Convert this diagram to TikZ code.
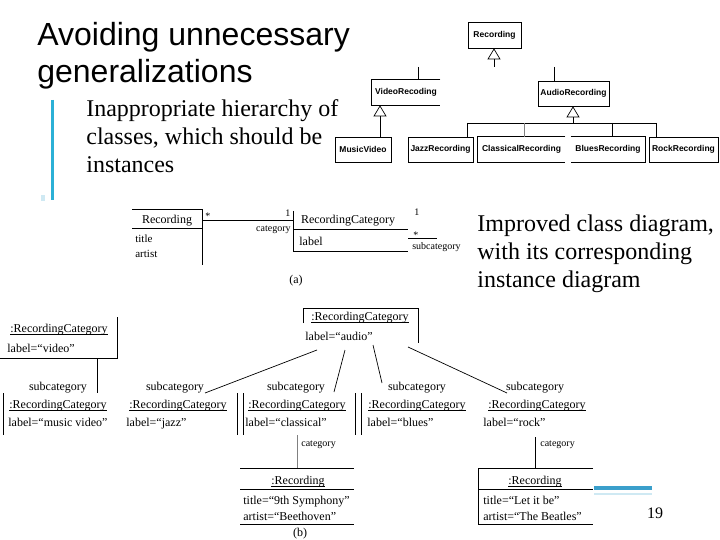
\documentclass[tikz,border=0pt]{standalone}
\usepackage{fontspec}
\setmainfont{Liberation Serif}
\newfontfamily\sansfam{Liberation Sans}
\usetikzlibrary{arrows.meta}
\definecolor{barblue}{HTML}{2BB0D6}
\definecolor{lightblue}{HTML}{CFE9F3}
\definecolor{lineblue}{HTML}{3A9FCB}
\newcommand\titlefnt{\sansfam\fontsize{32}{37}\selectfont}
\newcommand\bodyfnt{\fontsize{24}{28}\selectfont}
\newcommand\hierfnt{\sansfam\bfseries\fontsize{8.5}{10}\selectfont}
\newcommand\umlfnt{\fontsize{12}{14}\selectfont}
\newcommand\attrfnt{\fontsize{11}{13}\selectfont}
\newcommand\smallfnt{\fontsize{10}{12}\selectfont}
\newcommand\tul[1]{\leavevmode\setbox0=\hbox{#1}\rlap{\rule[-2.6pt]{\wd0}{1.1pt}}\box0}
\begin{document}
\begin{tikzpicture}[x=1pt,y=-1pt,line width=0.7pt,
  hbox/.style={font=\hierfnt, inner sep=0pt, minimum height=25pt},
  hdraw/.style={hbox, draw},
  gen/.style={-{Triangle[open,length=11pt,width=13pt]}},
  txt/.style={inner sep=0pt, font=\umlfnt},
  sml/.style={inner sep=0pt, font=\smallfnt},
  bw/.style={anchor=base west},
  bc/.style={anchor=base},
  be/.style={anchor=base east}]
\clip (0,0) rectangle (720,540);
\fill[white] (0,0) rectangle (720,540);

% ---- title and texts
\node[bw, inner sep=0pt, font=\titlefnt] (t1) at (37,46) {Avoiding unnecessary};
\node[bw, inner sep=0pt, font=\titlefnt] (t2) at (37,83) {generalizations};
\draw[barblue, line width=3pt] (52,100) -- (52,200);
\fill[lightblue] (41,195) rectangle (45,201);
\node[bw, inner sep=0pt, font=\bodyfnt] (b1) at (86,117) {Inappropriate hierarchy of};
\node[bw, inner sep=0pt, font=\bodyfnt] (b2) at (86,145) {classes, which should be};
\node[bw, inner sep=0pt, font=\bodyfnt] (b3) at (86,173) {instances};
\node[bw, inner sep=0pt, font=\bodyfnt] (r1) at (477,231) {Improved class diagram,};
\node[bw, inner sep=0pt, font=\bodyfnt] (r2) at (477,259) {with its corresponding};
\node[bw, inner sep=0pt, font=\bodyfnt] (r3) at (477,287) {instance diagram};

% ---- inappropriate hierarchy
\node[hdraw, minimum width=53pt, minimum height=26pt] (rec) at (494.5,35) {Recording};
\node[hbox, minimum width=68pt] (video) at (406,92.5) {VideoRecoding};
\draw (video.north east) -- (video.north west) -- (video.south west) -- (video.south east);
\node[hdraw, minimum width=71pt] (audio) at (573.5,93.5) {AudioRecording};
\node[hdraw, minimum width=56pt] (mv) at (363,149.5) {MusicVideo};
\node[hdraw, minimum width=65pt] (jazz) at (440.5,149.5) {JazzRecording};
\node[hbox, minimum width=87pt] (classical) at (521.5,149.5) {ClassicalRecording};
\draw (classical.north east) -- (classical.north west) -- (classical.south west) -- (classical.south east);
\node[hbox, minimum width=74pt] (blues) at (608,149.5) {BluesRecording};
\draw (blues.north west) -- (blues.north east) -- (blues.south east) -- (blues.south west);
\node[hdraw, minimum width=69pt] (rock) at (683.5,149.5) {RockRecording};

\coordinate (recstub) at (494,67);
\draw[gen] (recstub) -- (recstub |- rec.south);
\coordinate (vstub) at (418,67);
\draw (vstub) -- (vstub |- video.north);
\coordinate (astub) at (554,67);
\draw (astub) -- (astub |- audio.north);
\coordinate (vt) at (380,137);
\draw[gen] (vt) -- (vt |- video.south);
\coordinate (bar1) at (467,123);
\coordinate (bar2) at (524,123);
\coordinate (bar3) at (612,123);
\coordinate (bar4) at (656,123);
\coordinate (barmid) at (573,123);
\draw[gen] (barmid) -- (barmid |- audio.south);
\draw (bar1) -- (bar4);
\draw (bar1) -- (bar1 |- jazz.north);
\draw[gray] (bar2) -- (bar2 |- classical.north);
\draw (bar3) -- (bar3 |- blues.north);
\draw (bar4) -- (bar4 |- rock.north);

% ---- (a) improved class diagram
\node[txt,bc] (recA) at (167,223) {Recording};
\draw (132,209) -- (202,209) -- (202,265);
\draw (132,228) -- (202,228);
\node[bw, inner sep=0pt, font=\attrfnt] (recAt) at (135,243) {title};
\node[bw, inner sep=0pt, font=\attrfnt] (recAa) at (135,258) {artist};
\coordinate (assocA) at (202,220);
\coordinate (assocB) at (293,220);
\draw (assocA) -- (assocB);
\node[sml,bw] (m1) at (205,219) {*};
\node[sml,bw] (m2) at (285,216) {1};
\node[sml,be] (catA) at (291,231) {category};
\draw (293,211) -- (293,251) -- (408,251);
\draw (293,229) -- (408,229);
\node[txt,bc] (rcA) at (348,224) {RecordingCategory};
\node[txt,bw] (rcAl) at (299,245) {label};
\node[sml,bw] (m3) at (414,215) {1};
\node[sml,bw] (m4) at (413,238) {*};
\coordinate (sc1) at (408,238);
\coordinate (sc2) at (437,238);
\draw (sc1) -- (sc2);
\node[sml,bw] (subA) at (412,249) {subcategory};
\node[txt,bc] (capa) at (296,283) {(a)};

% ---- (b) instance diagram
\draw (0,358) -- (117,358) -- (117,317);
\node[txt,bc] (vid) at (59,332) {\tul{:RecordingCategory}};
\node[txt,bw] (vidl) at (7,352) {label=“video”};
\draw (303,323) -- (303,308) -- (418,308) -- (418,343);
\node[txt,bc] (aud) at (360,320) {\tul{:RecordingCategory}};
\node[txt,bw] (audl) at (305,340) {label=“audio”};

\node[txt,bc] (c1) at (58,408) {\tul{:RecordingCategory}};
\node[txt,bc] (c2) at (178,408) {\tul{:RecordingCategory}};
\node[txt,bc] (c3) at (297,408) {\tul{:RecordingCategory}};
\node[txt,bc] (c4) at (417,408) {\tul{:RecordingCategory}};
\node[txt,bc] (c5) at (537,408) {\tul{:RecordingCategory}};
\node[txt,bw] (l1) at (8,426) {label=“music video”};
\node[txt,bw] (l2) at (126,426) {label=“jazz”};
\node[txt,bw] (l3) at (245,426) {label=“classical”};
\node[txt,bw] (l4) at (367,426) {label=“blues”};
\node[txt,bw] (l5) at (483,426) {label=“rock”};
\node[txt,bc] (s1) at (58,390) {subcategory};
\node[txt,bc] (s2) at (175,390) {subcategory};
\node[txt,bc] (s3) at (296,390) {subcategory};
\node[txt,bc] (s4) at (417,390) {subcategory};
\node[txt,bc] (s5) at (535,390) {subcategory};
\foreach \xx in {3,237,243,355,361} \draw (\xx,393) -- (\xx,435);

\coordinate (v0) at (97,358);
\coordinate (v1) at (97,393);
\draw (v0) -- (v1);
\coordinate (a1) at (317,350); \coordinate (e1) at (205,393);
\coordinate (a2) at (345,350); \coordinate (e2) at (334,392);
\coordinate (a3) at (373,345); \coordinate (e3) at (382,383);
\coordinate (a4) at (408,347); \coordinate (e4) at (507,393);
\draw (a1) -- (e1);
\draw (a2) -- (e2);
\draw (a3) -- (e3);
\draw (a4) -- (e4);

\coordinate (k1) at (297,435); \coordinate (k2) at (297,468);
\draw[gray, line width=1pt] (k1) -- (k2);
\node[sml,bw] (cat1) at (301,446) {category};
\coordinate (k3) at (535,437); \coordinate (k4) at (535,468);
\draw (k3) -- (k4);
\node[sml,bw] (cat2) at (540,446) {category};

\draw (240,468) -- (354,468);
\draw (240,489) -- (354,489);
\draw (240,524) -- (354,524);
\node[txt,bc] (ri1) at (298,484) {\tul{:Recording}};
\node[txt,bw] (ri1t) at (243,504) {title=“9th Symphony”};
\node[txt,bw] (ri1a) at (243,520) {artist=“Beethoven”};
\draw (593,468) -- (478,468) -- (478,524) -- (593,524);
\draw (478,489) -- (593,489);
\node[txt,bc] (ri2) at (535,484) {\tul{:Recording}};
\node[txt,bw] (ri2t) at (483,504) {title=“Let it be”};
\node[txt,bw] (ri2a) at (483,520) {artist=“The Beatles”};
\node[txt,bc] (capb) at (300,536.5) {(b)};

% ---- slide decoration
\draw[lineblue, line width=3.5pt] (594,488) -- (652,488);
\draw[lightblue, line width=2pt] (594,494) -- (652,494);
\node[bc, inner sep=0pt, font=\fontsize{16}{18}\selectfont] (pg) at (655,518) {19};
\end{tikzpicture}
\end{document}
